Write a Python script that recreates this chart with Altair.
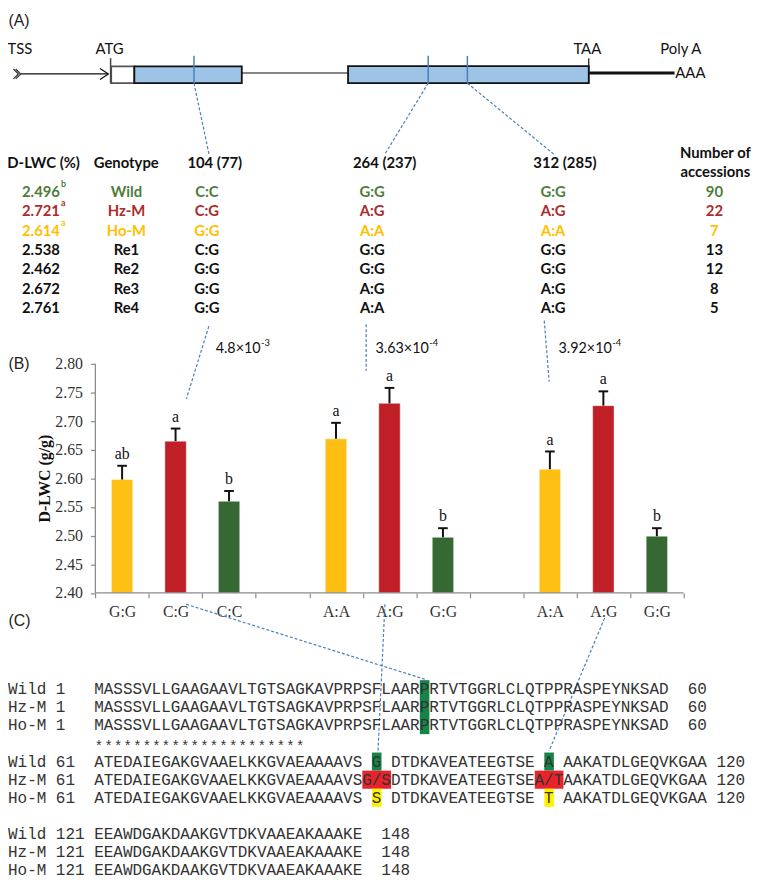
import altair as alt
import pandas as pd

# ---------------- data ----------------
dlwc_values = ["2.496", "2.721", "2.614", "2.538", "2.462", "2.672", "2.761"]
dlwc_letters = ["b", "a", "a", "", "", "", ""]
genotypes = ["Wild", "Hz-M", "Ho-M", "Re1", "Re2", "Re3", "Re4"]
snp_104 = ["C:C", "C:G", "G:G", "C:G", "G:G", "G:G", "G:G"]
snp_264 = ["G:G", "A:G", "A:A", "G:G", "G:G", "A:G", "A:A"]
snp_312 = ["G:G", "A:G", "A:A", "G:G", "G:G", "A:G", "A:G"]
n_accessions = ["90", "22", "7", "13", "12", "8", "5"]
headers = ["D-LWC (%)", "Genotype", "104 (77)", "264 (237)", "312 (285)"]
header_last = ["Number of", "accessions"]

p_values = ["4.8×10", "3.63×10", "3.92×10"]
p_exponents = ["-3", "-4", "-4"]

bar_genotype = ["G:G", "C:G", "C:C", "A:A", "A:G", "G:G", "A:A", "A:G", "G:G"]
bar_class = ["Ho-M", "Hz-M", "Wild"] * 3
bar_mean = [2.598, 2.665, 2.560, 2.669, 2.731, 2.497, 2.616, 2.727, 2.499]
bar_upper = [2.622, 2.687, 2.578, 2.697, 2.758, 2.513, 2.647, 2.752, 2.513]
bar_letter = ["ab", "a", "b", "a", "a", "b", "a", "a", "b"]
y_ticks = [2.40, 2.45, 2.50, 2.55, 2.60, 2.65, 2.70, 2.75, 2.80]

seq_names = ["Wild", "Hz-M", "Ho-M"]
seq_1_60 = "MASSSVLLGAAGAAVLTGTSAGKAVPRPSFLAARPRTVTGGRLCLQTPPRASPEYNKSAD"
seq_61_a = "ATEDAIEGAKGVAAELKKGVAEAAAAVS"
seq_61_b = "DTDKAVEATEEGTSE"
seq_61_c = "AAKATDLGEQVKGAA"
site_a = ["G", "G/S", "S"]
site_b = ["A", "A/T", "T"]
seq_121_148 = "EEAWDGAKDAAKGVTDKVAAEAKAAAKE"
conserved = "*" * 22
variant_pos_1 = 35  # P35

# ---------------- styles ----------------
TXT = {"Wild": "#4e7d3a", "Hz-M": "#ad2a2d", "Ho-M": "#ffc000"}
FILL = {"Wild": "#366834", "Hz-M": "#c01f27", "Ho-M": "#fdbf14"}
HL = {"Wild": "#168447", "Hz-M": "#e8232b", "Ho-M": "#fff200"}
BLUE = "#4a7ebb"
SANS = "Lato"
SERIF = "Liberation Serif"
MONO = "Liberation Mono"

W, H = 752, 872
PX = alt.Scale(domain=[8, 760], nice=False, zero=False)
PY = alt.Scale(domain=[8, 880], reverse=True, nice=False, zero=False)


def X(f):
    return alt.X(f, type="quantitative", scale=PX, axis=None)


def Y(f):
    return alt.Y(f, type="quantitative", scale=PY, axis=None)


def texts(rows, font, size, weight="normal", align="center", baseline="middle",
          color="#111111", angle=None):
    if len(rows[0]) == 4:
        df = pd.DataFrame(rows, columns=["t", "x", "y", "c"])
    else:
        df = pd.DataFrame([(r[0], r[1], r[2], color) for r in rows], columns=["t", "x", "y", "c"])
    mk = dict(font=font, fontSize=size, fontWeight=weight, align=align, baseline=baseline)
    if angle is not None:
        mk["angle"] = angle
    return alt.Chart(df).mark_text(**mk).encode(
        x=X("x"), y=Y("y"), text="t:N", color=alt.Color("c:N", scale=None))


layers = []

# panel labels
layers.append(texts([("(A)", 8.5, 16), ("(B)", 8.5, 363), ("(C)", 8.5, 623)],
                    "Liberation Sans", 16, align="left", color="#222222"))

# gene model boxes
boxes = pd.DataFrame([
    (112.3, 135.7, 62.3, 79.3, "#ffffff", "#555555"),
    (135.7, 244.3, 62.3, 79.3, "#9dc3e6", "#111111"),
    (351.7, 595.0, 62.0, 79.3, "#9dc3e6", "#111111"),
], columns=["x", "x2", "y", "y2", "f", "s"])
layers.append(alt.Chart(boxes).mark_rect(strokeWidth=1.8).encode(
    x=X("x"), x2="x2:Q", y=Y("y"), y2="y2:Q",
    fill=alt.Fill("f:N", scale=None), stroke=alt.Stroke("s:N", scale=None)))

segs = pd.DataFrame([
    (20.7, 70, 109.5, 70, "#111111", 1.3),
    (101, 64.5, 109.5, 70, "#111111", 1.3),
    (109.5, 70, 101, 75.5, "#111111", 1.3),
    (13.5, 65, 18.5, 70, "#333333", 1.2),
    (18.5, 70, 13.5, 75, "#333333", 1.2),
    (15.8, 65, 20.8, 70, "#333333", 1.2),
    (20.8, 70, 15.8, 75, "#333333", 1.2),
    (111.7, 54, 111.7, 79.3, "#444444", 1.5),
    (244.3, 69, 351.7, 69, "#111111", 1.2),
    (595, 54, 595, 79.3, "#111111", 1.2),
    (595, 69, 681.7, 69, "#111111", 3.0),
    (196, 51.7, 196, 79.3, BLUE, 1.5),
    (432.7, 51.7, 432.7, 79.3, BLUE, 1.5),
    (472.3, 51.7, 472.3, 79.3, BLUE, 1.5),
], columns=["x", "y", "x2", "y2", "c", "w"])
layers.append(alt.Chart(segs).mark_rule().encode(
    x=X("x"), y=Y("y"), x2="x2:Q", y2="y2:Q",
    color=alt.Color("c:N", scale=None), strokeWidth=alt.StrokeWidth("w:Q", scale=None)))

layers.append(texts([("TSS", 20, 45), ("ATG", 110.6, 45), ("TAA", 593.5, 45),
                     ("Poly A", 688, 45)], SANS, 15))
layers.append(texts([("AAA", 682.5, 69)], SANS, 15, align="left"))

# dashed connectors
dashes = pd.DataFrame([
    (196, 79.3, 211.5, 152.7), (432.7, 79.3, 388.5, 151.7), (472.3, 79.3, 560.4, 151.7),
    (211, 325, 188.3, 398.3), (370, 323, 370, 370), (550, 319.3, 555, 381),
    (188, 606, 430, 682), (389, 606, 382, 754), (611, 620, 555, 754),
], columns=["x", "y", "x2", "y2"])
layers.append(alt.Chart(dashes).mark_rule(color=BLUE, strokeWidth=1.2, strokeDash=[3, 2]).encode(
    x=X("x"), y=Y("y"), x2="x2:Q", y2="y2:Q"))

# table
hx = [44, 127.5, 217, 388.7, 571]
layers.append(texts([(h, hx[i], 160) for i, h in enumerate(headers)] +
                    [(header_last[0], 723, 150), (header_last[1], 723, 169)],
                    SANS, 15, weight="bold"))
cells_r, cells_c, sups = [], [], []
for i in range(len(genotypes)):
    y = 189 + 19.65 * i
    c = TXT.get(genotypes[i], "#111111")
    cells_r.append((dlwc_values[i], 60.5, y, c))
    for val, cx in [(genotypes[i], 127.7), (snp_104[i], 209), (snp_264[i], 376),
                    (snp_312[i], 559), (n_accessions[i], 722)]:
        cells_c.append((val, cx, y, c))
    if dlwc_letters[i]:
        sups.append((dlwc_letters[i], 61.5, y - 8, c))
layers.append(texts(cells_r, SANS, 15, weight="bold", align="right"))
layers.append(texts(cells_c, SANS, 15, weight="bold"))
layers.append(texts(sups, SANS, 9, weight="bold", align="left"))

# p-values
p_anchor = [263.3, 433.3, 618.3]
layers.append(texts([(p, p_anchor[i], 348.3) for i, p in enumerate(p_values)],
                    SANS, 14.5, align="right"))
layers.append(texts([(e, p_anchor[i] + 0.5, 342) for i, e in enumerate(p_exponents)],
                    SANS, 9.5, align="left"))

# y-axis title
layers.append(texts([("D-LWC (g/g)", 45, 479)], SERIF, 16, weight="bold", angle=270))

# ---------------- sequence alignment ----------------
CH = 9.68
SX = 8.0
B1, B2, B3, STEP = 691.7, 765.0, 838.3, 18.3
NB = "\u00a0"


def slot3(s):
    return s if len(s) == 3 else " " + s + " "


seq_rows = []
for k, name in enumerate(seq_names):
    seq_rows.append((f"{name} {'1':<4}" + seq_1_60 + "  60", B1 + k * STEP))
    seq_rows.append((f"{name} {'61':<4}" + seq_61_a + slot3(site_a[k]) + seq_61_b +
                     slot3(site_b[k]) + seq_61_c + " 120", B2 + k * STEP))
    seq_rows.append((f"{name} {'121':<4}" + seq_121_148 + "  148", B3 + k * STEP))

hl = []
col_p = 9 + variant_pos_1 - 1
hl.append((SX + col_p * CH, SX + (col_p + 1) * CH, B1 - 9, B1 + 2 * STEP + 9, HL["Wild"]))
ca = 9 + len(seq_61_a)
cb = ca + 3 + len(seq_61_b)
for k, name in enumerate(seq_names):
    yc = B2 + k * STEP
    for col, s in [(ca, site_a[k]), (cb, site_b[k])]:
        if len(s) == 3:
            x0, x1 = SX + col * CH, SX + (col + 3) * CH
        else:
            x0, x1 = SX + (col + 1) * CH, SX + (col + 2) * CH
        hl.append((x0, x1, yc - 9.15, yc + 9.15, HL[name]))
hl_df = pd.DataFrame(hl, columns=["x", "x2", "y", "y2", "f"])
layers.append(alt.Chart(hl_df).mark_rect().encode(
    x=X("x"), x2="x2:Q", y=Y("y"), y2="y2:Q", fill=alt.Fill("f:N", scale=None)))
layers.append(texts([(s.replace(" ", NB), SX, y) for s, y in seq_rows],
                    MONO, CH / 0.6, align="left", color="#333333"))
# conservation asterisks, one per alignment column
layers.append(texts([(ch, SX + (9 + j + 0.5) * CH, 750) for j, ch in enumerate(conserved)],
                    MONO, 14, color="#333333"))

# ---------------- bar chart (own scales) ----------------
AX_X, SLOT_W = 96.3, 54.05
AX_Y0, PX_PER_UNIT, Y_BASE = 594.5, 578.75, 2.40
XB = alt.Scale(domain=[(8 - AX_X) / SLOT_W, (760 - AX_X) / SLOT_W], nice=False, zero=False)
YB = alt.Scale(domain=[Y_BASE - (880 - AX_Y0) / PX_PER_UNIT, Y_BASE + (AX_Y0 - 8) / PX_PER_UNIT],
               nice=False, zero=False)

slots = [(i // 3) * 4 + i % 3 for i in range(len(bar_mean))]
n_slots = max(slots) + 1
slot_labels = [""] * n_slots
for s, g in zip(slots, bar_genotype):
    slot_labels[s] = g
arr = "[" + ",".join("'" + s + "'" for s in slot_labels) + "]"

XAXIS = alt.Axis(
    orient="bottom", offset=-(880 - AX_Y0), values=[i / 2 for i in range(2 * n_slots + 1)],
    labelExpr="datum.value % 1 === 0.5 ? " + arr + "[floor(datum.value)] : ''",
    tickOpacity={"condition": {"test": "datum.value % 1 !== 0", "value": 0}, "value": 1},
    tickSize=5, tickColor="#8c8c8c", tickWidth=1.2, domain=False, grid=False,
    labelFont=SERIF, labelFontSize=16, labelColor="#333333", labelPadding=6,
    labelFlush=False, labelOverlap=False, title=None)
YAXIS = alt.Axis(
    orient="left", offset=-(AX_X - 8), values=y_ticks, format=".2f",
    tickSize=5, tickColor="#8c8c8c", tickWidth=1.2, domain=False, grid=False,
    labelFont=SERIF, labelFontSize=16, labelColor="#333333", labelPadding=8,
    labelOverlap=False, title=None)

bar_df = pd.DataFrame({"geno": bar_genotype, "cls": bar_class, "mean": bar_mean,
                       "upper": bar_upper, "letter": bar_letter, "slot": slots})
bar_df["fill"] = bar_df["cls"].map(FILL)
base = alt.Chart(bar_df).transform_calculate(
    xc="datum.slot + 0.5", xl="datum.slot + 0.3", xr="datum.slot + 0.7",
    cl="datum.slot + 0.41", cr="datum.slot + 0.59", y0=str(Y_BASE))

bars = base.mark_bar(stroke="#ffffff", strokeOpacity=0.45, strokeWidth=1).encode(
    x=alt.X("xl:Q", scale=XB, axis=XAXIS), x2="xr:Q",
    y=alt.Y("mean:Q", scale=YB, axis=YAXIS), y2="y0:Q",
    color=alt.Color("fill:N", scale=None))
err = base.mark_rule(color="#111111", strokeWidth=2).encode(
    x=alt.X("xc:Q", scale=XB, axis=None), y=alt.Y("mean:Q", scale=YB, axis=None), y2="upper:Q")
cap = base.mark_rule(color="#111111", strokeWidth=2).encode(
    x=alt.X("cl:Q", scale=XB, axis=None), x2="cr:Q", y=alt.Y("upper:Q", scale=YB, axis=None))
let = base.mark_text(font=SERIF, fontSize=16, baseline="alphabetic", dy=-7, color="#111111").encode(
    x=alt.X("xc:Q", scale=XB, axis=None), y=alt.Y("upper:Q", scale=YB, axis=None), text="letter:N")

ax_df = pd.DataFrame({"x0": [0], "x1": [n_slots], "y0": [min(y_ticks)], "y1": [max(y_ticks)]})
xline = alt.Chart(ax_df).mark_rule(color="#8c8c8c", strokeWidth=1.3).encode(
    x=alt.X("x0:Q", scale=XB, axis=None), x2="x1:Q", y=alt.Y("y0:Q", scale=YB, axis=None))
yline = alt.Chart(ax_df).mark_rule(color="#8c8c8c", strokeWidth=1.3).encode(
    x=alt.X("x0:Q", scale=XB, axis=None), y=alt.Y("y0:Q", scale=YB, axis=None), y2="y1:Q")

chart = alt.layer(bars, *layers, err, cap, let, xline, yline).resolve_scale(
    x="independent", y="independent"
).properties(width=W, height=H, padding=0, autosize="none").configure_view(stroke=None)

chart.save("out.html", embed_options={"renderer": "svg", "actions": False})
